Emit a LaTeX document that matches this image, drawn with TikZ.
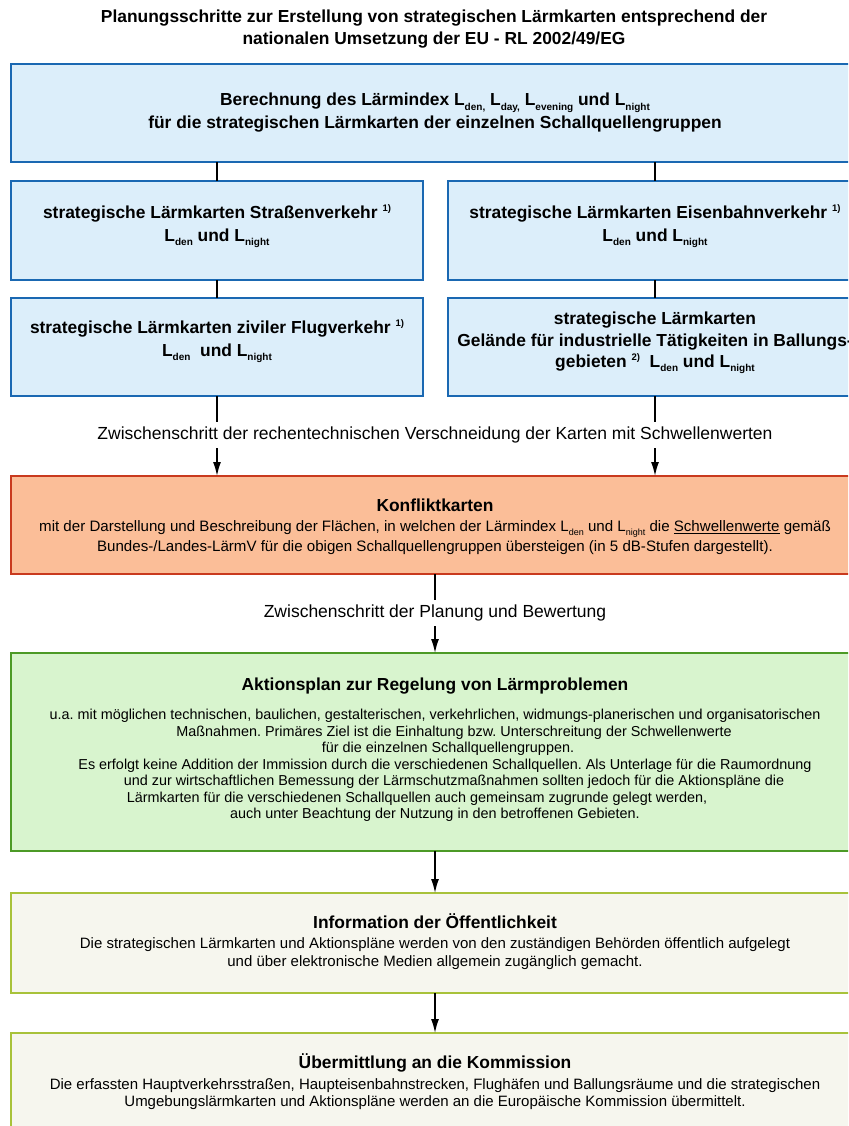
\documentclass[tikz,border=0pt]{standalone}
\usepackage{fontspec}
\setmainfont{Liberation Sans}
\usetikzlibrary{arrows.meta}
\frenchspacing
\definecolor{bluefill}{HTML}{DCEEFA}
\definecolor{blueline}{HTML}{1A68B2}
\definecolor{redfill}{HTML}{FBBE98}
\definecolor{redline}{HTML}{C93A1E}
\definecolor{greenfill}{HTML}{D8F4CE}
\definecolor{greenline}{HTML}{4C9A26}
\definecolor{palefill}{HTML}{F6F6EE}
\definecolor{paleline}{HTML}{A8C23A}
\newcommand\Ls[1]{L\raisebox{-0.25em}{\fontsize{10}{10}\selectfont #1}}
\newcommand\Lr[1]{L\raisebox{-0.22em}{\fontsize{9}{9}\selectfont #1}}
\newcommand\fnm[1]{\raisebox{0.42em}{\fontsize{9.5}{10}\selectfont #1}}
\tikzset{
  boxbase/.style={line width=2.2pt, inner sep=0pt, outer sep=0pt, anchor=north west},
  bluebox/.style={boxbase, draw=blueline, fill=bluefill},
  redbox/.style={boxbase, draw=redline, fill=redfill},
  greenbox/.style={boxbase, draw=greenline, fill=greenfill},
  palebox/.style={boxbase, draw=paleline, fill=palefill},
  boldtext/.style={align=center, inner sep=0pt, font=\bfseries\fontsize{17.4}{22.5}\selectfont},
  steptext/.style={align=center, fill=white, inner xsep=2pt, inner ysep=4.5pt, font=\fontsize{17.5}{21}\selectfont},
  conn/.style={line width=1.5pt, black},
  arr/.style={conn, -{Latex[length=14pt,width=8pt]}}
}
\begin{document}
\begin{tikzpicture}[x=1pt,y=-1pt]
\useasboundingbox (0,0) rectangle (848,1126);
\clip (0,0) rectangle (848,1126);
\fill[white] (0,0) rectangle (848,1126);

\node[boldtext, font=\bfseries\fontsize{17.4}{22}\selectfont] (title) at (434,29)
  {Planungsschritte zur Erstellung von strategischen Lärmkarten entsprechend der\\
   nationalen Umsetzung der EU - RL 2002/49/EG};

% boxes
\node[bluebox, minimum width=848pt, minimum height=98pt] (b1) at (11,64) {};
\node[bluebox, minimum width=412pt, minimum height=99pt] (b2L) at (11,181) {};
\node[bluebox, minimum width=414pt, minimum height=99pt] (b2R) at (448,181) {};
\node[bluebox, minimum width=412pt, minimum height=98pt] (b3L) at (11,298) {};
\node[bluebox, minimum width=414pt, minimum height=98pt] (b3R) at (448,298) {};
\node[redbox, minimum width=848pt, minimum height=98pt] (b4) at (11,476) {};
\node[greenbox, minimum width=848pt, minimum height=198pt] (b5) at (11,653) {};
\node[palebox, minimum width=848pt, minimum height=100pt] (b6) at (11,893) {};
\node[palebox, minimum width=848pt, minimum height=104pt] (b7) at (11,1033) {};

% connectors
\draw[conn] (b2L.north |- b1.south) -- (b2L.north);
\draw[conn] (b2R.north |- b1.south) -- (b2R.north);
\draw[conn] (b2L.south) -- (b3L.north);
\draw[conn] (b2R.south) -- (b3R.north);
\draw[arr] (b3L.south) -- (b3L.south |- b4.north);
\draw[arr] (b3R.south) -- (b3R.south |- b4.north);
\draw[arr] (b4.south -| 435,0) -- (b5.north -| 435,0);
\draw[arr] (b5.south -| 435,0) -- (b6.north -| 435,0);
\draw[arr] (b6.south -| 435,0) -- (b7.north -| 435,0);

% texts
\node[boldtext] (t1) at (435,112.5)
  {Berechnung des Lärmindex \Ls{den,} \Ls{day,} \Ls{evening} und \Ls{night}\\
   für die strategischen Lärmkarten der einzelnen Schallquellengruppen};
\node[boldtext] (t2L) at (217,226)
  {strategische Lärmkarten Straßenverkehr \fnm{1)}\\ \Ls{den} und \Ls{night}};
\node[boldtext] (t2R) at (655,226)
  {strategische Lärmkarten Eisenbahnverkehr \fnm{1)}\\ \Ls{den} und \Ls{night}};
\node[boldtext] (t3L) at (217,341)
  {strategische Lärmkarten ziviler Flugverkehr \fnm{1)}\\ \Ls{den}\ \ und \Ls{night}};
\node[boldtext, font=\bfseries\fontsize{17.4}{21.5}\selectfont] (t3R) at (655,343)
  {strategische Lärmkarten\\
   Gelände für industrielle Tätigkeiten in Ballungs-\\
   gebieten \fnm{2)}\ \ \Ls{den} und \Ls{night}};

\node[steptext] (z1) at (435,435)
  {Zwischenschritt der rechentechnischen Verschneidung der Karten mit Schwellenwerten};

\node[align=center, inner sep=0pt, font=\fontsize{15.1}{20}\selectfont] (t4) at (435,527)
  {{\bfseries\fontsize{17.4}{20}\selectfont Konfliktkarten}\\
   mit der Darstellung und Beschreibung der Flächen, in welchen der Lärmindex \Lr{den} und \Lr{night} die \underline{Schwellenwerte} gemäß\\
   Bundes-/Landes-LärmV für die obigen Schallquellengruppen übersteigen (in 5 dB-Stufen dargestellt).};

\node[steptext] (z2) at (435,613) {Zwischenschritt der Planung und Bewertung};

\node[align=center, inner sep=0pt, font=\fontsize{14.4}{16.5}\selectfont] (t5) at (435,750)
  {{\bfseries\fontsize{17.4}{20}\selectfont Aktionsplan zur Regelung von Lärmproblemen}\\[12.5pt]
   u.a. mit möglichen technischen, baulichen, gestalterischen, verkehrlichen, widmungs-planerischen und organisatorischen\\
   \hspace*{38pt}Maßnahmen. Primäres Ziel ist die Einhaltung bzw. Unterschreitung der Schwellenwerte\\
   \hspace*{26pt}für die einzelnen Schallquellengruppen.\\
   \hspace*{20pt}Es erfolgt keine Addition der Immission durch die verschiedenen Schallquellen. Als Unterlage für die Raumordnung\\
   \hspace*{38pt}und zur wirtschaftlichen Bemessung der Lärmschutzmaßnahmen sollten jedoch für die Aktionspläne die\\
   Lärmkarten für die verschiedenen Schallquellen auch gemeinsam zugrunde gelegt werden,\hspace*{36pt}\mbox{}\\
   auch unter Beachtung der Nutzung in den betroffenen Gebieten.};

\node[align=center, inner sep=0pt, font=\fontsize{15}{18}\selectfont] (t6) at (435,942)
  {{\bfseries\fontsize{17.4}{20}\selectfont Information der Öffentlichkeit}\\[2pt]
   Die strategischen Lärmkarten und Aktionspläne werden von den zuständigen Behörden öffentlich aufgelegt\\
   und über elektronische Medien allgemein zugänglich gemacht.};

\node[align=center, inner sep=0pt, font=\fontsize{15}{17}\selectfont] (t7) at (435,1082)
  {{\bfseries\fontsize{17.4}{20}\selectfont Übermittlung an die Kommission}\\[4pt]
   Die erfassten Hauptverkehrsstraßen, Haupteisenbahnstrecken, Flughäfen und Ballungsräume und die strategischen\\
   Umgebungslärmkarten und Aktionspläne werden an die Europäische Kommission übermittelt.};
\end{tikzpicture}
\end{document}
